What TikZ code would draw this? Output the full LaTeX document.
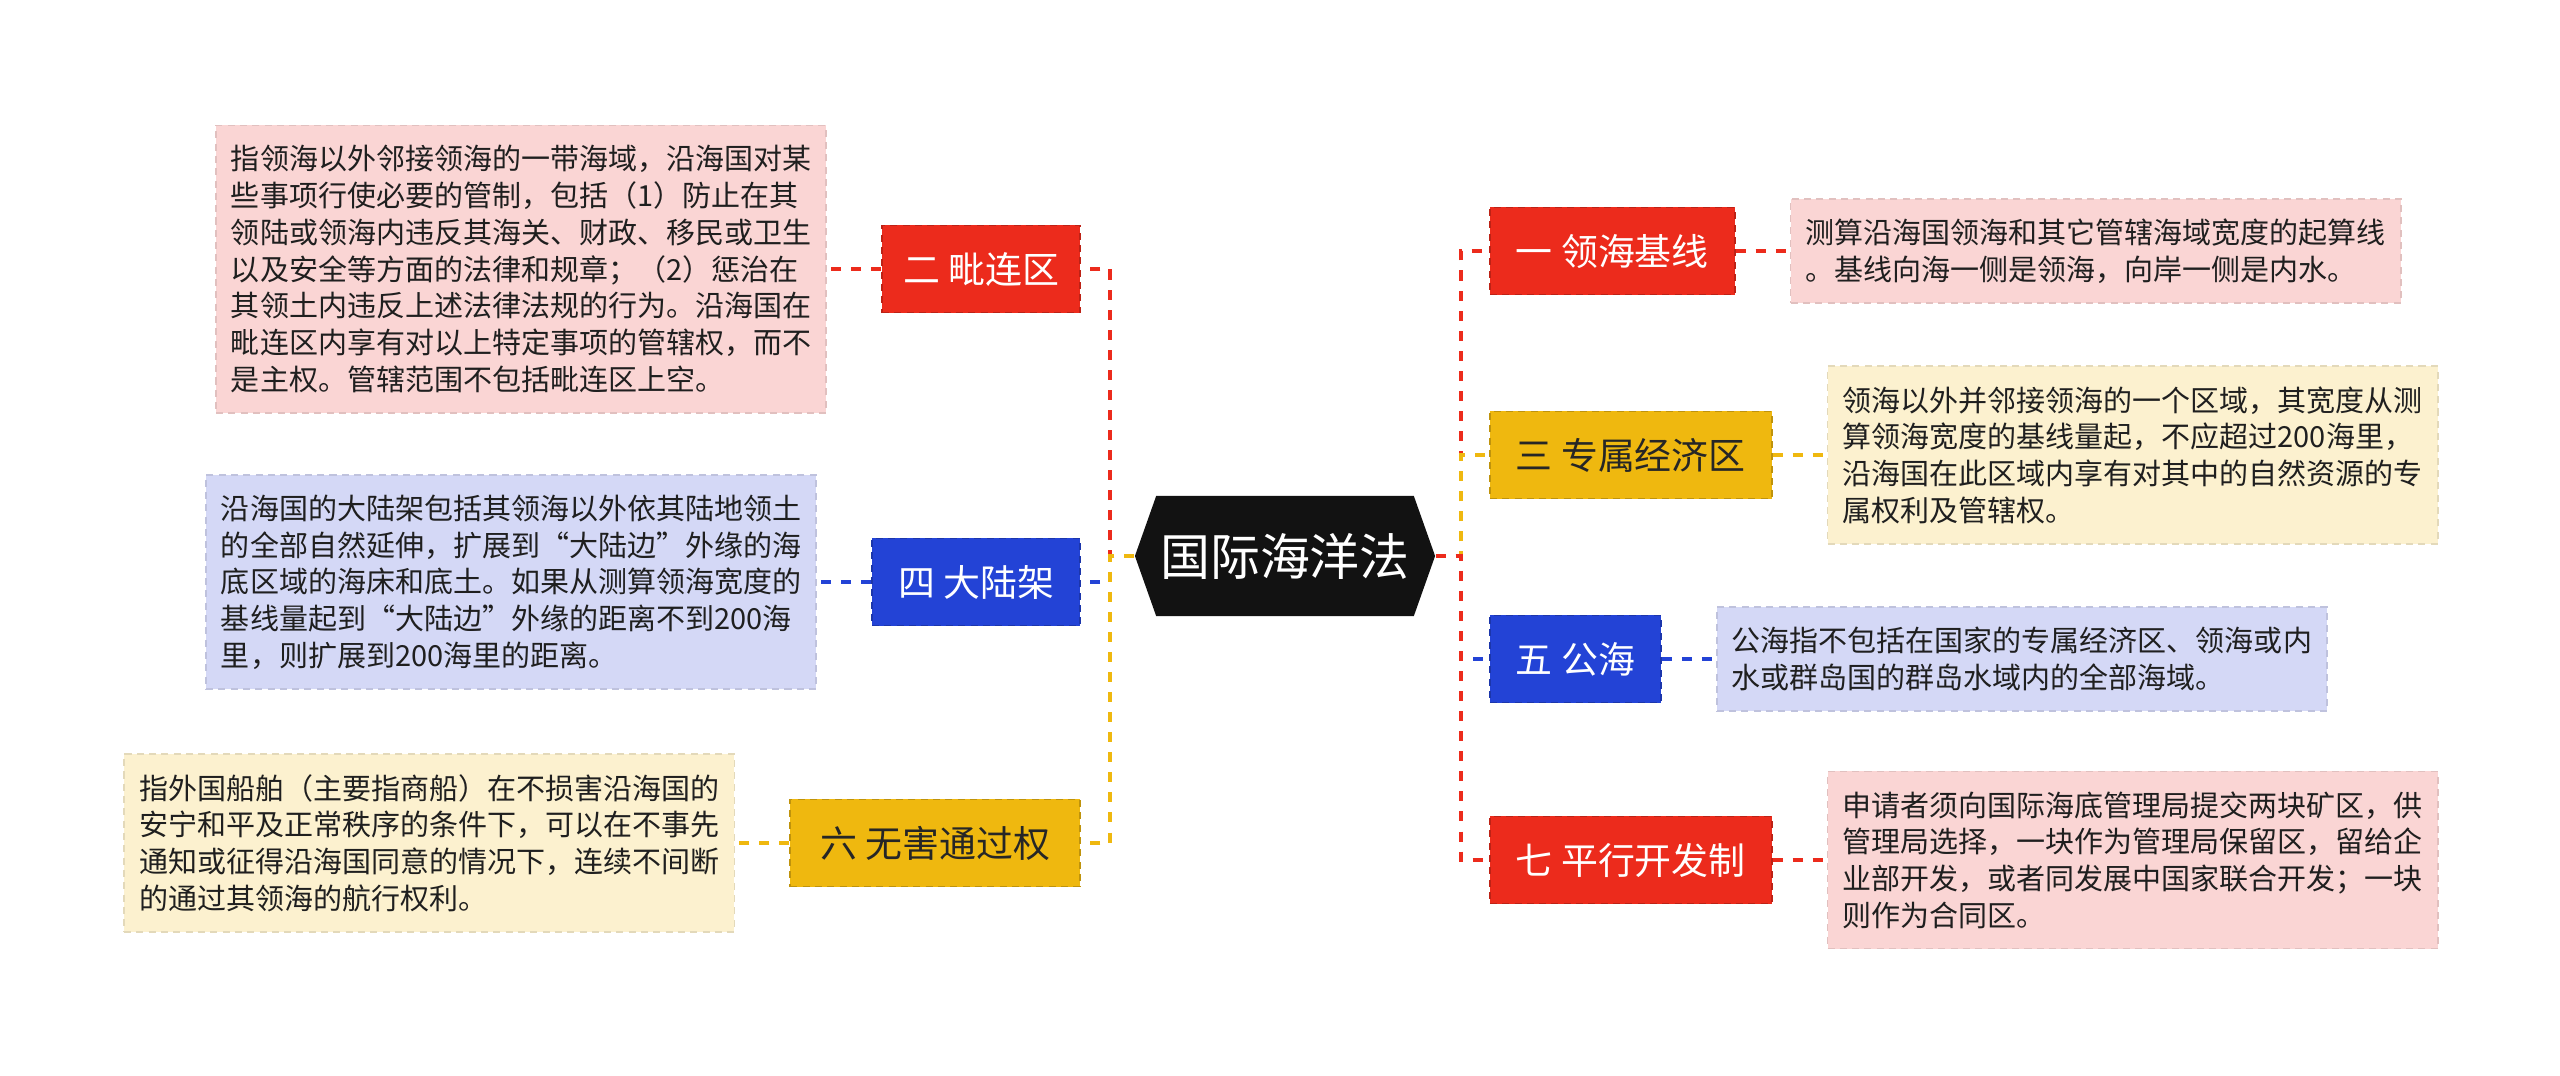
\documentclass[tikz,border=0pt]{standalone}
\usepackage{fontspec}
\setmainfont{Noto Sans CJK SC}
\usetikzlibrary{positioning,shapes.symbols}

\definecolor{lawred}{HTML}{EC2B1C}
\definecolor{lawyellow}{HTML}{EFB80F}
\definecolor{lawblue}{HTML}{2343D6}
\definecolor{lawpink}{HTML}{FAD5D4}
\definecolor{lawcream}{HTML}{FCF1CF}
\definecolor{lawlilac}{HTML}{D4D8F6}

\begin{document}
\begin{tikzpicture}[x=0.01cm, y=-0.01cm,
    topic/.style={signal, signal to=west and east, signal pointer angle=141,
        fill=black!93, text=white, minimum width=3cm, minimum height=1.2cm,
        inner sep=0pt, font=\fontsize{14.2}{17}\selectfont},
    branch/.style={fill=#1, draw=#1!80!black, dash pattern=on 2pt off 1.5pt,
        line width=0.5pt, minimum height=0.87cm, inner xsep=0.26cm,
        text=white, font=\fontsize{10.5}{12}\selectfont},
    note/.style={fill=#1, draw=#1!90!black, dash pattern=on 2pt off 1.5pt,
        line width=0.5pt, text width=5.8cm, align=left, inner xsep=0.15cm,
        inner ysep=0.2cm, text=black!88, font=\fontsize{8.25}{10.44}\selectfont},
    link/.style={draw=#1, line width=1.1pt, dash pattern=on 2.85pt off 2.85pt}]

    \useasboundingbox (0,0) rectangle (2560,1075);

    % root
    \node[topic] (law) at (1285,556) {国际海洋法};
    \coordinate (ltrunk) at (1110,556);
    \coordinate (rtrunk) at (1461,556);

    % right branches
    \node[branch=lawred, anchor=west] (baseline) at (1489,251) {一 领海基线};
    \node[branch=lawyellow, text=black!85, anchor=west] (eez) at (1489,455) {三 专属经济区};
    \node[branch=lawblue, anchor=west] (highsea) at (1489,659) {五 公海};
    \node[branch=lawred, anchor=west] (parallel) at (1489,860) {七 平行开发制};

    % left branches
    \node[branch=lawred, inner xsep=0.21cm, anchor=east] (contig) at (1081,269) {二 毗连区};
    \node[branch=lawblue, anchor=east] (shelf) at (1081,582) {四 大陆架};
    \node[branch=lawyellow, text=black!85, inner xsep=0.3cm, anchor=east] (passage) at (1081,843) {六 无害通过权};

    % right notes
    \node[note=lawpink, right=0.54cm of baseline] (baselinetxt) {测算沿海国领海和其它管辖海域宽度的起算线\\
        。基线向海一侧是领海，向岸一侧是内水。};
    \node[note=lawcream, right=0.54cm of eez] (eeztxt) {领海以外并邻接领海的一个区域，其宽度从测\\
        算领海宽度的基线量起，不应超过200海里，\\
        沿海国在此区域内享有对其中的自然资源的专\\
        属权利及管辖权。};
    \node[note=lawlilac, right=0.54cm of highsea] (highseatxt) {公海指不包括在国家的专属经济区、领海或内\\
        水或群岛国的群岛水域内的全部海域。};
    \node[note=lawpink, right=0.54cm of parallel] (paralleltxt) {申请者须向国际海底管理局提交两块矿区，供\\
        管理局选择，一块作为管理局保留区，留给企\\
        业部开发，或者同发展中国家联合开发；一块\\
        则作为合同区。};

    % left notes
    \node[note=lawpink, left=0.54cm of contig] (contigtxt) {指领海以外邻接领海的一带海域，沿海国对某\\
        些事项行使必要的管制，包括（1）防止在其\\
        领陆或领海内违反其海关、财政、移民或卫生\\
        以及安全等方面的法律和规章；（2）惩治在\\
        其领土内违反上述法律法规的行为。沿海国在\\
        毗连区内享有对以上特定事项的管辖权，而不\\
        是主权。管辖范围不包括毗连区上空。};
    \node[note=lawlilac, left=0.54cm of shelf] (shelftxt) {沿海国的大陆架包括其领海以外依其陆地领土\\
        的全部自然延伸，扩展到“大陆边”外缘的海\\
        底区域的海床和底土。如果从测算领海宽度的\\
        基线量起到“大陆边”外缘的距离不到200海\\
        里，则扩展到200海里的距离。};
    \node[note=lawcream, left=0.54cm of passage] (passagetxt) {指外国船舶（主要指商船）在不损害沿海国的\\
        安宁和平及正常秩序的条件下，可以在不事先\\
        通知或征得沿海国同意的情况下，连续不间断\\
        的通过其领海的航行权利。};

    % trunk links
    \draw[link=lawred] (law.east) -- (rtrunk) |- (baseline.west);
    \draw[link=lawyellow] (law.east) -- (rtrunk) |- (eez.west);
    \draw[link=lawblue] (law.east) -- (rtrunk) |- (highsea.west);
    \draw[link=lawred] (law.east) -- (rtrunk) |- (parallel.west);
    \draw[link=lawred] (law.west) -- (ltrunk) |- (contig.east);
    \draw[link=lawblue] (law.west) -- (ltrunk) |- (shelf.east);
    \draw[link=lawyellow] (law.west) -- (ltrunk) |- (passage.east);

    % note links
    \draw[link=lawred] (baseline) -- (baselinetxt);
    \draw[link=lawyellow] (eez) -- (eeztxt);
    \draw[link=lawblue] (highsea) -- (highseatxt);
    \draw[link=lawred] (parallel) -- (paralleltxt);
    \draw[link=lawred] (contig) -- (contigtxt);
    \draw[link=lawblue] (shelf) -- (shelftxt);
    \draw[link=lawyellow] (passage) -- (passagetxt);

\end{tikzpicture}
\end{document}
